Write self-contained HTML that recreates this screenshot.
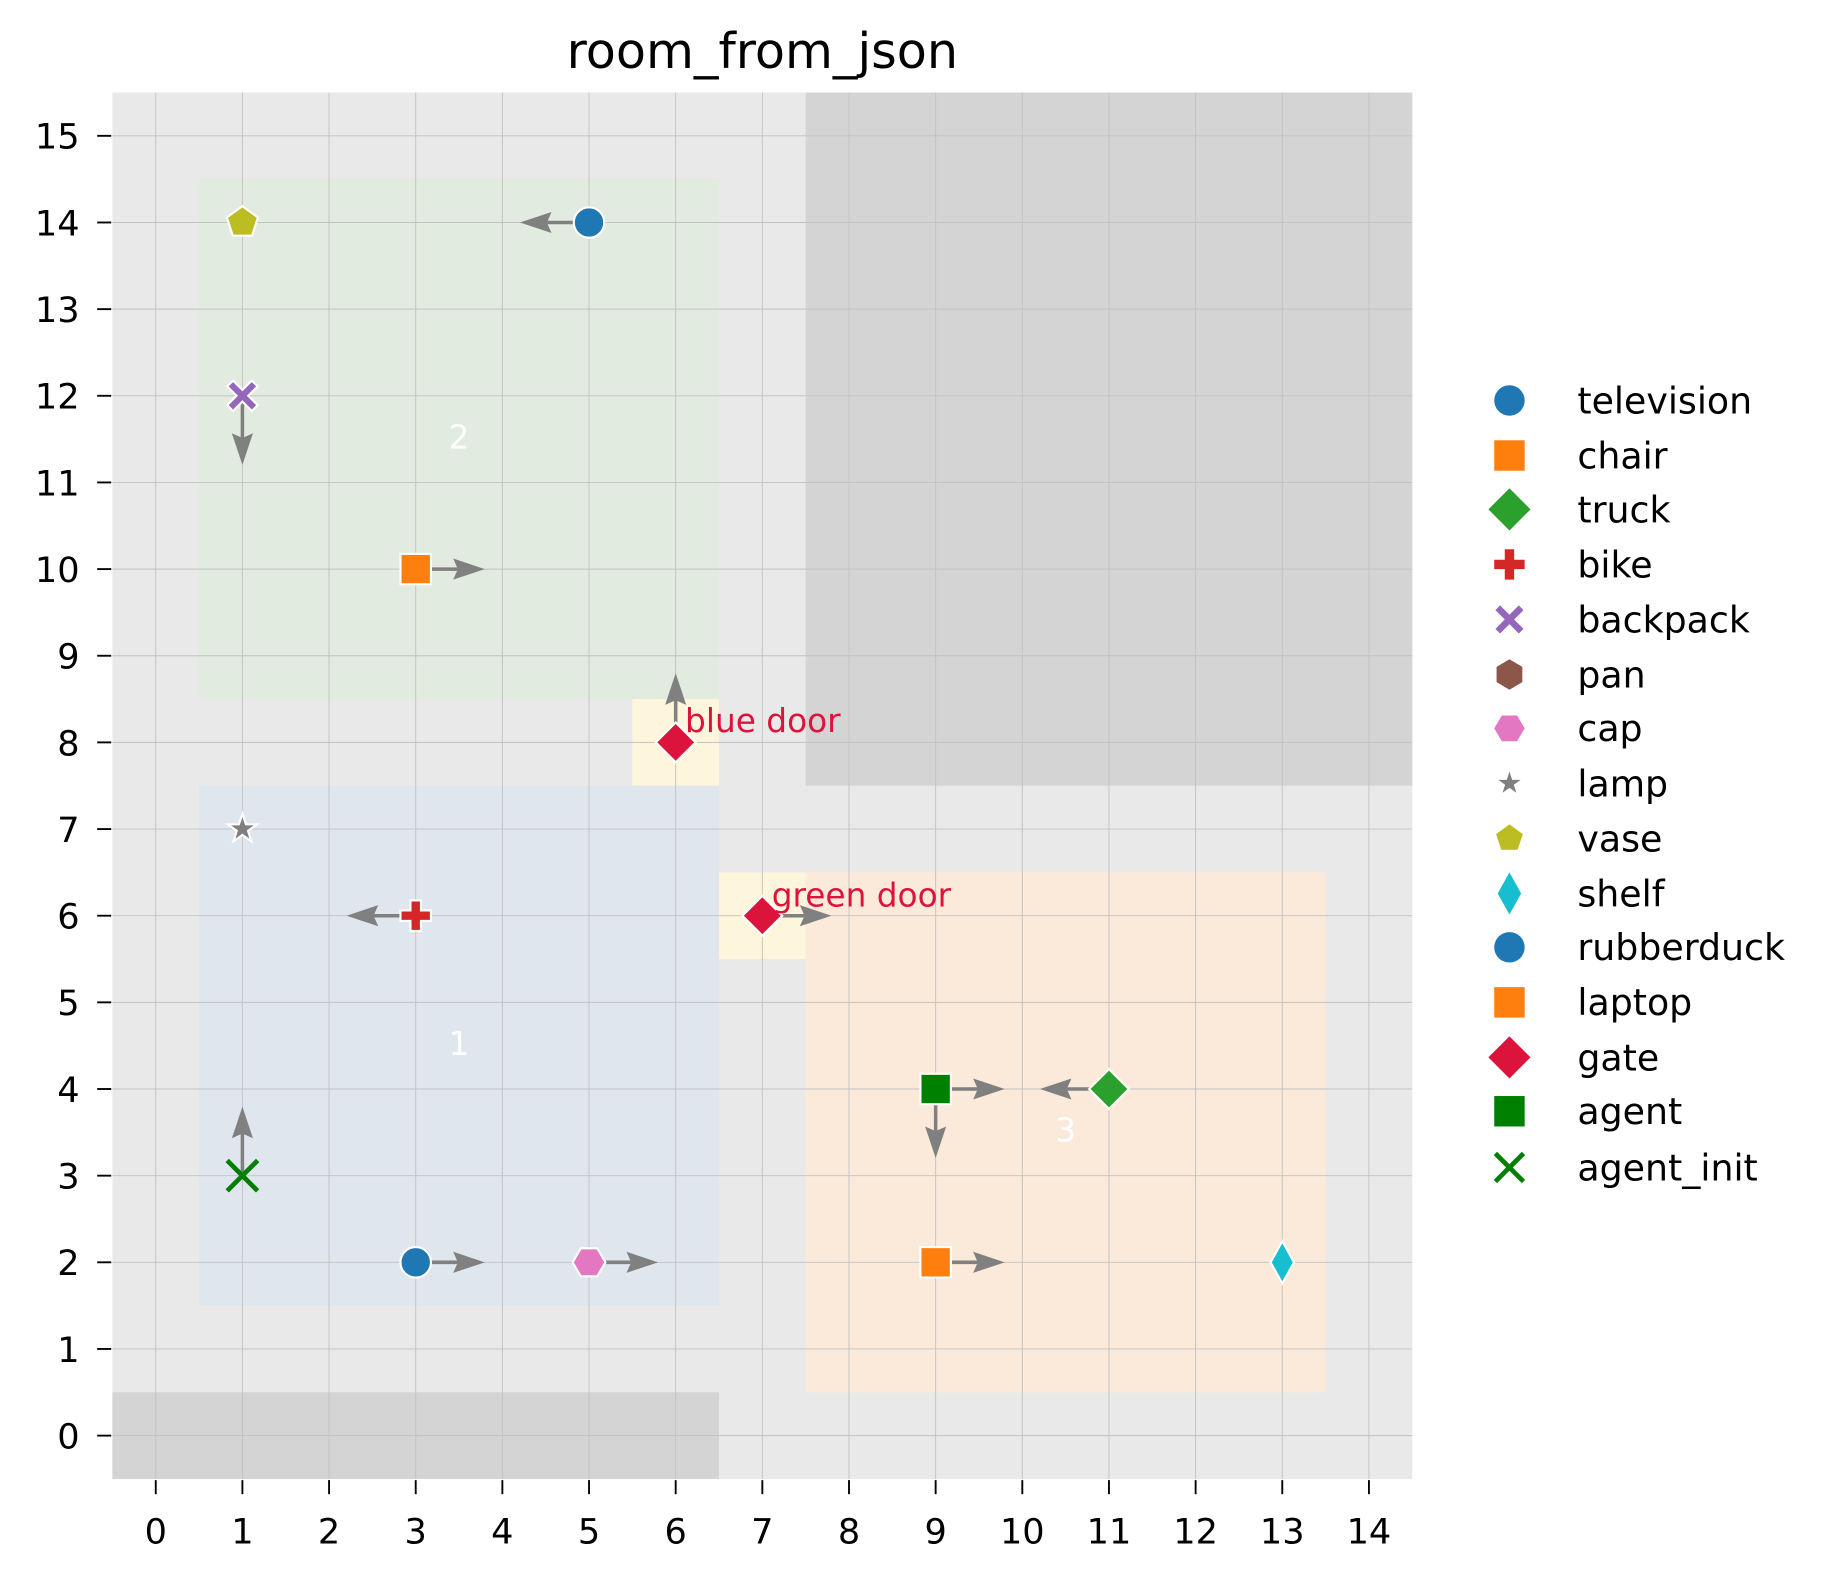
<!DOCTYPE html>
<html><head><meta charset="utf-8"><style>
html,body{margin:0;padding:0;background:#fff;}
svg{display:block;}
text{font-family:"DejaVu Sans","Liberation Sans",sans-serif;}
</style></head><body>
<svg width="1835" height="1580" viewBox="0 0 1567 1349.3" preserveAspectRatio="none" xmlns="http://www.w3.org/2000/svg">
<defs>
<g id="arr"><line x1="0" y1="0" x2="36" y2="0" stroke="#808080" stroke-width="3"/><polygon points="59,0 32,-9 36,0 32,9" fill="#808080"/></g>
</defs>
<rect x="96" y="79" width="1110" height="1184" fill="#e9e9e9"/>
<rect x="688" y="79" width="518" height="592" fill="#d4d4d4"/>
<rect x="96" y="1189" width="518" height="74" fill="#d4d4d4"/>
<rect x="170" y="153" width="444" height="444" fill="#e1ebdf"/>
<rect x="170" y="671" width="444" height="444" fill="#dfe6ee"/>
<rect x="688" y="745" width="444" height="444" fill="#fbead9"/>
<rect x="540" y="597" width="74" height="74" fill="#fdf6dd"/>
<rect x="614" y="745" width="74" height="74" fill="#fdf6dd"/>
<g stroke="#c2c2c2" stroke-width="0.8">
<line x1="133" y1="79" x2="133" y2="1263"/><line x1="207" y1="79" x2="207" y2="1263"/><line x1="281" y1="79" x2="281" y2="1263"/><line x1="355" y1="79" x2="355" y2="1263"/><line x1="429" y1="79" x2="429" y2="1263"/><line x1="503" y1="79" x2="503" y2="1263"/><line x1="577" y1="79" x2="577" y2="1263"/><line x1="651" y1="79" x2="651" y2="1263"/><line x1="725" y1="79" x2="725" y2="1263"/><line x1="799" y1="79" x2="799" y2="1263"/><line x1="873" y1="79" x2="873" y2="1263"/><line x1="947" y1="79" x2="947" y2="1263"/><line x1="1021" y1="79" x2="1021" y2="1263"/><line x1="1095" y1="79" x2="1095" y2="1263"/><line x1="1169" y1="79" x2="1169" y2="1263"/>
<line x1="96" y1="1226" x2="1206" y2="1226"/><line x1="96" y1="1152" x2="1206" y2="1152"/><line x1="96" y1="1078" x2="1206" y2="1078"/><line x1="96" y1="1004" x2="1206" y2="1004"/><line x1="96" y1="930" x2="1206" y2="930"/><line x1="96" y1="856" x2="1206" y2="856"/><line x1="96" y1="782" x2="1206" y2="782"/><line x1="96" y1="708" x2="1206" y2="708"/><line x1="96" y1="634" x2="1206" y2="634"/><line x1="96" y1="560" x2="1206" y2="560"/><line x1="96" y1="486" x2="1206" y2="486"/><line x1="96" y1="412" x2="1206" y2="412"/><line x1="96" y1="338" x2="1206" y2="338"/><line x1="96" y1="264" x2="1206" y2="264"/><line x1="96" y1="190" x2="1206" y2="190"/><line x1="96" y1="116" x2="1206" y2="116"/>
</g>
<g stroke="#000" stroke-width="1.6">
<line x1="133" y1="1264" x2="133" y2="1276"/><line x1="207" y1="1264" x2="207" y2="1276"/><line x1="281" y1="1264" x2="281" y2="1276"/><line x1="355" y1="1264" x2="355" y2="1276"/><line x1="429" y1="1264" x2="429" y2="1276"/><line x1="503" y1="1264" x2="503" y2="1276"/><line x1="577" y1="1264" x2="577" y2="1276"/><line x1="651" y1="1264" x2="651" y2="1276"/><line x1="725" y1="1264" x2="725" y2="1276"/><line x1="799" y1="1264" x2="799" y2="1276"/><line x1="873" y1="1264" x2="873" y2="1276"/><line x1="947" y1="1264" x2="947" y2="1276"/><line x1="1021" y1="1264" x2="1021" y2="1276"/><line x1="1095" y1="1264" x2="1095" y2="1276"/><line x1="1169" y1="1264" x2="1169" y2="1276"/>
<line x1="83" y1="1226" x2="95" y2="1226"/><line x1="83" y1="1152" x2="95" y2="1152"/><line x1="83" y1="1078" x2="95" y2="1078"/><line x1="83" y1="1004" x2="95" y2="1004"/><line x1="83" y1="930" x2="95" y2="930"/><line x1="83" y1="856" x2="95" y2="856"/><line x1="83" y1="782" x2="95" y2="782"/><line x1="83" y1="708" x2="95" y2="708"/><line x1="83" y1="634" x2="95" y2="634"/><line x1="83" y1="560" x2="95" y2="560"/><line x1="83" y1="486" x2="95" y2="486"/><line x1="83" y1="412" x2="95" y2="412"/><line x1="83" y1="338" x2="95" y2="338"/><line x1="83" y1="264" x2="95" y2="264"/><line x1="83" y1="190" x2="95" y2="190"/><line x1="83" y1="116" x2="95" y2="116"/>
</g>
<g font-size="30" text-anchor="middle" fill="#000">
<text x="133" y="1318">0</text><text x="207" y="1318">1</text><text x="281" y="1318">2</text><text x="355" y="1318">3</text><text x="429" y="1318">4</text><text x="503" y="1318">5</text><text x="577" y="1318">6</text><text x="651" y="1318">7</text><text x="725" y="1318">8</text><text x="799" y="1318">9</text><text x="873" y="1318">10</text><text x="947" y="1318">11</text><text x="1021" y="1318">12</text><text x="1095" y="1318">13</text><text x="1169" y="1318">14</text>
</g>
<g font-size="30" text-anchor="end" fill="#000">
<text x="68" y="1237">0</text><text x="68" y="1163">1</text><text x="68" y="1089">2</text><text x="68" y="1015">3</text><text x="68" y="941">4</text><text x="68" y="867">5</text><text x="68" y="793">6</text><text x="68" y="719">7</text><text x="68" y="645">8</text><text x="68" y="571">9</text><text x="68" y="497">10</text><text x="68" y="423">11</text><text x="68" y="349">12</text><text x="68" y="275">13</text><text x="68" y="201">14</text><text x="68" y="127">15</text>
</g>
<text x="651" y="58" font-size="42" text-anchor="middle">room_from_json</text>
<g font-size="28" fill="#fff" text-anchor="middle">
<text x="392" y="383">2</text><text x="392" y="901">1</text><text x="910" y="975">3</text>
</g>
<use href="#arr" transform="translate(503,190) rotate(180)"/>
<use href="#arr" transform="translate(207,338) rotate(90)"/>
<use href="#arr" transform="translate(355,486)"/>
<use href="#arr" transform="translate(577,634) rotate(-90)"/>
<use href="#arr" transform="translate(355,782) rotate(180)"/>
<use href="#arr" transform="translate(651,782)"/>
<use href="#arr" transform="translate(799,930)"/>
<use href="#arr" transform="translate(799,930) rotate(90)"/>
<use href="#arr" transform="translate(947,930) rotate(180)"/>
<use href="#arr" transform="translate(207,1004) rotate(-90)"/>
<use href="#arr" transform="translate(355,1078)"/>
<use href="#arr" transform="translate(503,1078)"/>
<use href="#arr" transform="translate(799,1078)"/>
<g stroke="#fff" stroke-width="1.8">
<circle cx="503" cy="190" r="13" fill="#1f77b4"/>
<polygon points="207,176 220.3,185.7 215.2,201.3 198.8,201.3 193.7,185.7" fill="#bcbd22"/>
<polygon transform="translate(207,338)" points="-8,-13 0,-5 8,-13 13,-8 5,0 13,8 8,13 0,5 -8,13 -13,8 -5,0 -13,-8" fill="#9467bd"/>
<rect x="342" y="473" width="26" height="26" fill="#ff7f0e"/>
<polygon points="577,617 594,634 577,651 560,634" fill="#dc143c"/>
<polygon transform="translate(207,708)" points="0,-13 3,-4 12.4,-4 4.8,1.5 7.6,10.5 0,5 -7.6,10.5 -4.8,1.5 -12.4,-4 -3,-4" fill="#7f7f7f"/>
<polygon transform="translate(355,782)" points="-4.5,-13 4.5,-13 4.5,-4.5 13,-4.5 13,4.5 4.5,4.5 4.5,13 -4.5,13 -4.5,4.5 -13,4.5 -13,-4.5 -4.5,-4.5" fill="#d62728"/>
<polygon points="651,765 668,782 651,799 634,782" fill="#dc143c"/>
<rect x="786" y="917" width="26" height="26" fill="#008000"/>
<polygon points="947,913 964,930 947,947 930,930" fill="#2ca02c"/>
<circle cx="355" cy="1078" r="13" fill="#1f77b4"/>
<polygon transform="translate(503,1078)" points="14,0 7,-12 -7,-12 -14,0 -7,12 7,12" fill="#e377c2"/>
<rect x="786" y="1065" width="26" height="26" fill="#ff7f0e"/>
<polygon points="1095,1060 1105,1078 1095,1096 1085,1078" fill="#17becf"/>
</g>
<g stroke="#008000" stroke-width="4"><line x1="194" y1="991" x2="220" y2="1017"/><line x1="220" y1="991" x2="194" y2="1017"/></g>
<g font-size="28" fill="#dc143c">
<text x="585" y="625">blue door</text><text x="659" y="774">green door</text>
</g>
<circle cx="1289" cy="342" r="13" fill="#1f77b4"/>
<rect x="1276" y="376" width="26" height="26" fill="#ff7f0e"/>
<polygon points="1289,417 1307,435 1289,453 1271,435" fill="#2ca02c"/>
<polygon transform="translate(1289,482)" points="-4,-13 4,-13 4,-4 13,-4 13,4 4,4 4,13 -4,13 -4,4 -13,4 -13,-4 -4,-4" fill="#d62728"/>
<polygon transform="translate(1289,529)" points="-8,-12 0,-4 8,-12 12,-8 4,0 12,8 8,12 0,4 -8,12 -12,8 -4,0 -12,-8" fill="#9467bd"/>
<polygon transform="translate(1289,576)" points="0,-13 11,-6.5 11,6.5 0,13 -11,6.5 -11,-6.5" fill="#8c564b"/>
<polygon transform="translate(1289,622)" points="13,0 6.5,-11 -6.5,-11 -13,0 -6.5,11 6.5,11" fill="#e377c2"/>
<polygon transform="translate(1289,669)" points="0,-10 2.3,-3 9.5,-3 3.7,1.2 5.9,8 0,3.8 -5.9,8 -3.7,1.2 -9.5,-3 -2.3,-3" fill="#7f7f7f"/>
<polygon transform="translate(1289,716)" points="0,-12 11.4,-3.7 7,9.7 -7,9.7 -11.4,-3.7" fill="#bcbd22"/>
<polygon points="1289,745 1299,763 1289,781 1279,763" fill="#17becf"/>
<circle cx="1289" cy="809" r="13" fill="#1f77b4"/>
<rect x="1276" y="843" width="26" height="26" fill="#ff7f0e"/>
<polygon points="1289,885 1307,903 1289,921 1271,903" fill="#dc143c"/>
<rect x="1276" y="936" width="26" height="26" fill="#008000"/>
<g stroke="#008000" stroke-width="4"><line x1="1277" y1="985" x2="1301" y2="1009"/><line x1="1301" y1="985" x2="1277" y2="1009"/></g>
<g font-size="31" fill="#000">
<text x="1347" y="353">television</text><text x="1347" y="400">chair</text><text x="1347" y="446">truck</text><text x="1347" y="493">bike</text><text x="1347" y="540">backpack</text><text x="1347" y="587">pan</text><text x="1347" y="633">cap</text><text x="1347" y="680">lamp</text><text x="1347" y="727">vase</text><text x="1347" y="774">shelf</text><text x="1347" y="820">rubberduck</text><text x="1347" y="867">laptop</text><text x="1347" y="914">gate</text><text x="1347" y="960">agent</text><text x="1347" y="1008">agent_init</text>
</g>
</svg>
</body></html>
